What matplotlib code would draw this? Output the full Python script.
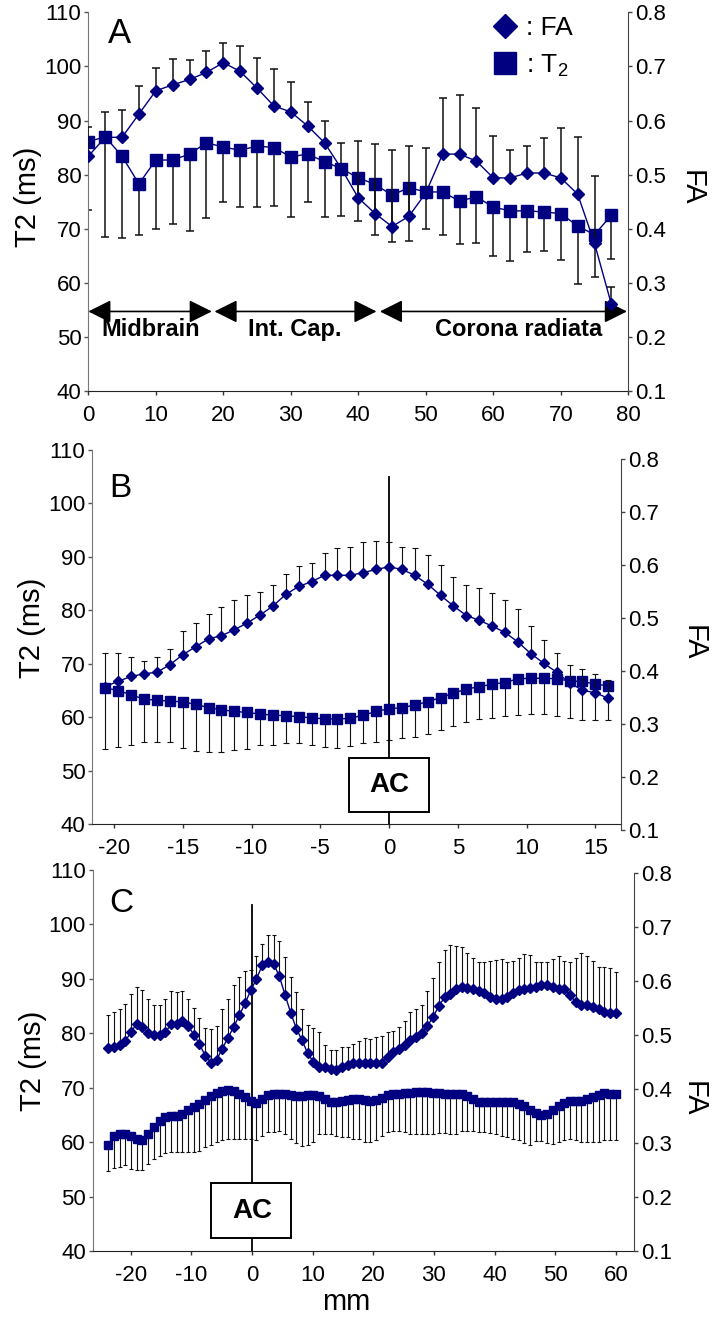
import numpy as np
import matplotlib
matplotlib.use("Agg")
import matplotlib.pyplot as plt
from matplotlib.lines import Line2D
from matplotlib.patches import Rectangle
from matplotlib.ticker import FormatStrFormatter

plt.rcParams["font.family"] = ["Liberation Sans", "DejaVu Sans"]
plt.rcParams["axes.unicode_minus"] = False

NAVY = "#000080"

# ------------------------------------------------------------
# Panel A : 2.5 mm steps along the tract
# ------------------------------------------------------------
A_MM = np.arange(32) * 2.5
A_FA = [0.534, 0.569, 0.569, 0.612, 0.655, 0.666, 0.676, 0.689, 0.707, 0.691,
        0.660, 0.627, 0.616, 0.590, 0.559, 0.511, 0.457, 0.428, 0.404, 0.423,
        0.466, 0.538, 0.538, 0.525, 0.494, 0.494, 0.503, 0.503, 0.494, 0.464,
        0.373, 0.260]
A_FA_TOP = [0.589, 0.616, 0.619, 0.663, 0.697, 0.713, 0.712, 0.729, 0.744, 0.738,
            0.715, 0.695, 0.672, 0.635, 0.599, 0.559, 0.563, 0.556, 0.546, 0.553,
            0.550, 0.642, 0.647, 0.623, 0.571, 0.545, 0.553, 0.568, 0.587, 0.569,
            0.497, 0.293]
A_T2 = [86.1, 87.0, 83.4, 78.3, 82.7, 82.7, 83.8, 85.9, 85.1, 84.5,
        85.3, 85.0, 83.3, 83.8, 82.4, 81.1, 79.4, 78.2, 76.2, 77.6,
        76.8, 76.8, 75.1, 75.9, 74.0, 73.3, 73.3, 73.1, 72.8, 70.5,
        68.9, 72.5]
A_T2_LOW = [73.5, 68.4, 68.3, 68.8, 70.0, 70.9, 69.5, 72.0, 74.9, 74.0,
            74.0, 74.2, 72.2, 74.9, 72.2, 72.3, 71.5, 68.9, 67.5, 67.8,
            70.0, 68.8, 67.1, 67.3, 64.9, 64.1, 65.7, 65.8, 64.2, 59.7,
            61.1, 64.4]
A_REGIONS = ["Midbrain", "Int. Cap.", "Corona radiata"]
A_REGION_SPANS = [(0, 18.3), (18.7, 42.7), (43.2, 79.8)]
A_REGION_LABEL_MM = [9.3, 30.6, 63.7]

# ------------------------------------------------------------
# Panel B : 0.9375 mm steps, AC at 0
# ------------------------------------------------------------
B_MM = -20.625 + 0.9375 * np.arange(40)
B_FA = [0.371, 0.381, 0.390, 0.395, 0.398, 0.412, 0.431, 0.446, 0.461, 0.467,
        0.478, 0.491, 0.506, 0.523, 0.545, 0.560, 0.569, 0.581, 0.581, 0.581,
        0.586, 0.592, 0.597, 0.592, 0.581, 0.564, 0.543, 0.523, 0.505, 0.496,
        0.485, 0.473, 0.455, 0.433, 0.415, 0.398, 0.378, 0.364, 0.359, 0.349]
B_FA_TOP = [0.434, 0.434, 0.426, 0.420, 0.426, 0.441, 0.475, 0.490, 0.507, 0.521,
            0.535, 0.544, 0.549, 0.562, 0.584, 0.598, 0.605, 0.623, 0.633, 0.634,
            0.644, 0.646, 0.644, 0.635, 0.633, 0.620, 0.600, 0.577, 0.562, 0.557,
            0.547, 0.535, 0.518, 0.486, 0.458, 0.434, 0.412, 0.404, 0.395, 0.384]
B_T2 = [65.5, 65.0, 64.2, 63.4, 63.2, 63.0, 62.9, 62.4, 61.8, 61.4,
        61.1, 60.9, 60.6, 60.4, 60.3, 60.1, 59.9, 59.7, 59.7, 59.8,
        60.4, 61.1, 61.6, 61.8, 62.3, 62.9, 63.7, 64.5, 65.3, 65.7,
        66.2, 66.5, 67.2, 67.3, 67.3, 67.2, 66.8, 66.7, 66.2, 65.9]
B_T2_LOW = [54.1, 54.5, 54.9, 55.4, 55.4, 55.4, 54.3, 53.7, 53.5, 53.5,
            53.9, 54.1, 54.8, 54.9, 55.1, 55.1, 54.9, 54.5, 54.3, 54.7,
            55.1, 55.4, 55.8, 56.2, 56.4, 56.8, 57.6, 58.4, 59.1, 59.7,
            59.9, 60.3, 60.4, 60.6, 60.6, 60.3, 59.9, 59.5, 59.5, 59.5]

# ------------------------------------------------------------
# Panel C : ~0.94 mm steps, AC at 0
# ------------------------------------------------------------
C_MM = -23.7 + 0.94 * np.arange(90)
C_FA = [0.476, 0.478, 0.482, 0.489, 0.506, 0.521, 0.515, 0.503, 0.500, 0.501,
        0.505, 0.520, 0.521, 0.527, 0.517, 0.501, 0.483, 0.462, 0.449, 0.454,
        0.475, 0.495, 0.515, 0.537, 0.559, 0.583, 0.604, 0.629, 0.635, 0.632,
        0.609, 0.575, 0.541, 0.512, 0.490, 0.466, 0.450, 0.441, 0.440, 0.437,
        0.435, 0.440, 0.445, 0.448, 0.448, 0.449, 0.448, 0.448, 0.449, 0.460,
        0.469, 0.475, 0.482, 0.491, 0.497, 0.503, 0.517, 0.534, 0.554, 0.570,
        0.577, 0.585, 0.589, 0.587, 0.586, 0.581, 0.578, 0.570, 0.567, 0.567,
        0.570, 0.578, 0.583, 0.586, 0.587, 0.589, 0.592, 0.592, 0.589, 0.586,
        0.586, 0.575, 0.561, 0.555, 0.556, 0.552, 0.548, 0.543, 0.541, 0.541]
C_FA_TOP = [0.537, 0.542, 0.549, 0.558, 0.577, 0.589, 0.583, 0.567, 0.556, 0.556,
            0.566, 0.581, 0.580, 0.581, 0.567, 0.550, 0.532, 0.513, 0.511, 0.517,
            0.548, 0.567, 0.593, 0.607, 0.618, 0.620, 0.647, 0.669, 0.685, 0.686,
            0.675, 0.644, 0.607, 0.580, 0.549, 0.519, 0.513, 0.505, 0.482, 0.472,
            0.472, 0.478, 0.478, 0.484, 0.489, 0.494, 0.492, 0.497, 0.499, 0.506,
            0.507, 0.515, 0.527, 0.543, 0.549, 0.556, 0.581, 0.605, 0.635, 0.657,
            0.667, 0.665, 0.663, 0.653, 0.642, 0.636, 0.636, 0.638, 0.640, 0.641,
            0.636, 0.638, 0.642, 0.650, 0.648, 0.635, 0.635, 0.636, 0.641, 0.646,
            0.638, 0.636, 0.642, 0.652, 0.647, 0.638, 0.626, 0.626, 0.624, 0.617]
C_T2 = [59.5, 61.2, 61.5, 61.5, 61.2, 60.6, 60.3, 61.5, 62.7, 63.8,
        64.6, 64.7, 64.7, 65.2, 65.9, 66.4, 67.0, 67.8, 68.4, 69.0,
        69.4, 69.5, 69.4, 68.9, 68.3, 67.6, 67.2, 67.9, 68.6, 68.8,
        68.8, 68.8, 68.6, 68.4, 68.4, 68.6, 68.6, 68.4, 68.0, 67.3,
        67.3, 67.6, 67.8, 68.0, 68.0, 67.8, 67.6, 67.8, 68.1, 68.6,
        68.8, 68.9, 69.0, 69.0, 69.2, 69.2, 69.2, 69.1, 69.0, 68.8,
        68.8, 68.9, 68.8, 68.4, 68.0, 67.3, 67.3, 67.3, 67.3, 67.3,
        67.3, 67.3, 67.0, 66.7, 65.9, 65.3, 64.9, 65.2, 65.9, 66.7,
        67.1, 67.6, 67.6, 67.6, 68.0, 68.3, 68.6, 69.0, 68.9, 68.8]
C_T2_LOW = [54.6, 55.2, 55.5, 55.7, 55.1, 54.8, 54.8, 56.0, 56.9, 57.5,
            57.9, 58.1, 58.1, 58.1, 58.1, 58.1, 58.4, 59.1, 59.5, 60.0,
            60.4, 60.6, 60.6, 60.6, 60.6, 60.6, 60.3, 61.2, 61.8, 61.8,
            62.1, 61.5, 60.6, 59.8, 59.2, 59.5, 60.0, 61.5, 61.5, 61.4,
            61.2, 60.9, 60.9, 60.6, 60.6, 60.0, 60.0, 60.3, 61.2, 61.8,
            62.1, 62.1, 61.8, 61.5, 61.5, 61.5, 61.5, 61.5, 61.6, 61.6,
            61.5, 61.5, 62.0, 62.1, 62.0, 61.8, 61.8, 61.6, 61.4, 61.2,
            60.9, 60.6, 60.3, 59.8, 59.5, 60.2, 60.2, 59.8, 59.7, 60.0,
            60.3, 60.6, 60.3, 60.0, 60.0, 60.0, 60.0, 60.3, 60.4, 60.3]


# ============================================================
# helpers
# ============================================================

def make_panel(fig, rect, rect_fa, xlim, xticks, mm, fa, fa_top, t2, t2_low,
               ms_fa, ms_t2, capsize, elw):
    ax = fig.add_axes(rect)
    ax2 = fig.add_axes(rect_fa, sharex=ax)
    ax2.patch.set_visible(False)

    mm = np.asarray(mm)
    fa, fa_top = np.asarray(fa), np.asarray(fa_top)
    t2, t2_low = np.asarray(t2), np.asarray(t2_low)

    # T2 : error bars point down
    ax.errorbar(mm, t2, yerr=[t2 - t2_low, np.zeros_like(t2)], fmt="none",
                ecolor="#111111", elinewidth=elw, capsize=capsize,
                capthick=elw, zorder=1)
    ax.plot(mm, t2, marker="s", ms=ms_t2, color=NAVY, lw=1.0, zorder=3)

    # FA : error bars point up
    ax2.errorbar(mm, fa, yerr=[np.zeros_like(fa), fa_top - fa], fmt="none",
                 ecolor="#111111", elinewidth=elw, capsize=capsize,
                 capthick=elw, zorder=1)
    ax2.plot(mm, fa, marker="D", ms=ms_fa, color=NAVY, lw=1.0, zorder=3)

    ax.set_xlim(*xlim)
    ax.set_xticks(xticks)
    ax.set_ylim(40, 110)
    ax.set_yticks(np.arange(40, 111, 10))
    ax2.set_ylim(0.1, 0.8)
    ax2.set_yticks(np.arange(0.1, 0.81, 0.1))
    ax2.yaxis.set_major_formatter(FormatStrFormatter("%.1f"))

    for s in ("top", "right"):
        ax.spines[s].set_visible(False)
    for s in ("top", "left", "bottom"):
        ax2.spines[s].set_visible(False)
    ax.spines["left"].set_color("#777777")
    ax.spines["bottom"].set_color("#222222")
    ax2.spines["right"].set_color("#444444")

    ax.tick_params(axis="y", direction="out", length=3, width=1,
                   colors="#555555", labelcolor="black", labelsize=16, pad=2)
    ax.tick_params(axis="x", direction="out", length=3, width=1,
                   colors="#333333", labelcolor="black", labelsize=16, pad=7)
    ax2.yaxis.tick_right()
    ax2.yaxis.set_label_position("right")
    ax2.tick_params(axis="y", direction="out", length=3, width=1,
                    colors="#444444", labelcolor="black", labelsize=16, pad=2)
    ax2.tick_params(axis="x", bottom=False, labelbottom=False)

    ax.set_ylabel("T2 (ms)", fontsize=21)
    ax2.set_ylabel("FA", fontsize=21, rotation=270, va="bottom")
    return ax, ax2


def add_ac_marker(ax, line_top, box):
    x0, x1, y0, y1 = box
    ax.axvline(0, ymin=0, ymax=(line_top - 40) / 70.0, color="black",
               lw=1.3, zorder=2)
    ax.add_patch(Rectangle((x0, y0), x1 - x0, y1 - y0, facecolor="white",
                           edgecolor="black", lw=1.4, zorder=4))
    ax.text(0, (y0 + y1) / 2, "AC", ha="center", va="center",
            fontsize=20, fontweight="bold", zorder=5)


# ============================================================
# figure
# ============================================================

fig = plt.figure(figsize=(7.12, 13.19), dpi=100)

# ---- A ----
axA, axA2 = make_panel(fig, [0.1240, 0.7036, 0.7584, 0.2870],
                       [0.1240, 0.7036, 0.7584, 0.2870],
                       (0, 80), np.arange(0, 81, 10),
                       A_MM, A_FA, A_FA_TOP, A_T2, A_T2_LOW,
                       ms_fa=6.5, ms_t2=8.5, capsize=3, elw=1.1)
axA.yaxis.set_label_coords(-0.085, 0.513)
axA2.yaxis.set_label_coords(1.092, 0.538)
axA.text(0.0587, 0.943, "A", transform=axA.transAxes, fontsize=25,
         ha="center", va="center")

for (x0, x1), name, xl in zip(A_REGION_SPANS, A_REGIONS, A_REGION_LABEL_MM):
    axA.annotate("", xy=(x1, 54.7), xytext=(x0, 54.7),
                 arrowprops=dict(arrowstyle="<|-|>,head_length=0.7,head_width=0.35",
                                 color="black", lw=1.2, shrinkA=0, shrinkB=0,
                                 mutation_scale=20),
                 annotation_clip=False)
    axA.text(xl, 51.4, name, ha="center", va="center", fontsize=17,
             fontweight="bold")

handles = [Line2D([], [], marker="D", ms=12, color=NAVY, ls="none"),
           Line2D([], [], marker="s", ms=16, color=NAVY, ls="none")]
axA2.legend(handles, [": FA", r": T$_\mathregular{2}$"], loc="upper left",
            bbox_to_anchor=(0.747, 0.99), frameon=False, fontsize=19,
            handlelength=1.0, handletextpad=0.3, borderpad=0,
            borderaxespad=0, labelspacing=0.45)

# ---- B ----
axB, axB2 = make_panel(fig, [0.1296, 0.3751, 0.7426, 0.2838],
                       [0.1296, 0.3707, 0.7426, 0.2811],
                       (-21.58, 16.87), np.arange(-20, 16, 5),
                       B_MM, B_FA, B_FA_TOP, B_T2, B_T2_LOW,
                       ms_fa=5, ms_t2=7, capsize=2, elw=0.8)
axB.yaxis.set_label_coords(-0.088, 0.524)
axB2.yaxis.set_label_coords(1.11, 0.504)
axB.text(0.054, 0.898, "B", transform=axB.transAxes, fontsize=24,
         ha="center", va="center")
add_ac_marker(axB, 105, (-2.9, 2.9, 42.2, 52.3))

# ---- C ----
axC, axC2 = make_panel(fig, [0.1302, 0.0516, 0.7603, 0.2889],
                       [0.1302, 0.0516, 0.7603, 0.2864],
                       (-26.27, 63.0), np.arange(-20, 61, 10),
                       C_MM, C_FA, C_FA_TOP, C_T2, C_T2_LOW,
                       ms_fa=5, ms_t2=6, capsize=1.5, elw=0.8)
axC.yaxis.set_label_coords(-0.084, 0.5)
axC2.yaxis.set_label_coords(1.085, 0.402)
axC.text(0.052, 0.911, "C", transform=axC.transAxes, fontsize=24,
         ha="center", va="center")
add_ac_marker(axC, 103.6, (-6.7, 6.4, 42.3, 52.5))

fig.text(346 / 712, 1 - 1310 / 1319, "mm", ha="center", va="baseline",
         fontsize=21)

fig.savefig("out.png", dpi=100)
